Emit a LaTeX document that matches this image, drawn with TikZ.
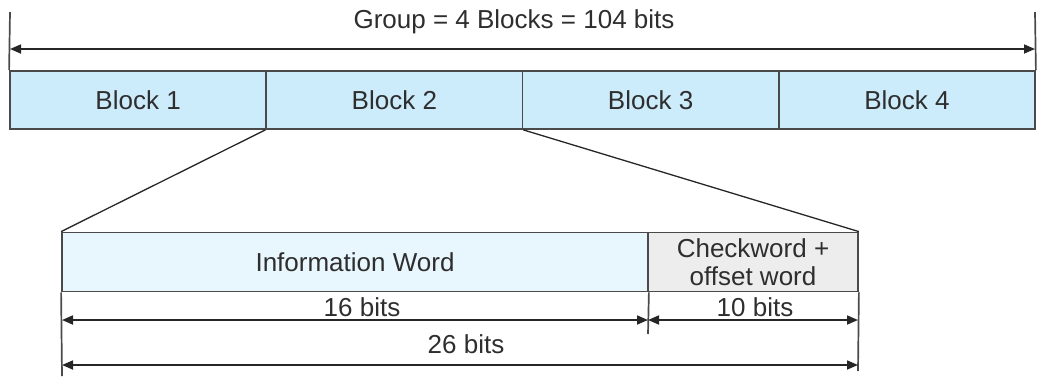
\documentclass[tikz,border=0pt]{standalone}
\usepackage{fontspec}
\setmainfont{Liberation Sans}
\usetikzlibrary{arrows.meta}
\definecolor{blockblue}{HTML}{CCEBFB}
\definecolor{infoblue}{HTML}{E8F6FD}
\definecolor{checkgray}{HTML}{EDEDED}
\definecolor{edge}{HTML}{4A4A4A}
\definecolor{txt}{HTML}{2E2E2E}
\tikzset{
  blockbox/.style={draw=edge, line width=1.8pt, fill=blockblue, minimum width=256.25pt, minimum height=58pt, inner sep=0pt, text=txt, font=\fontsize{26}{29}\selectfont},
  wordbox/.style={draw=edge, line width=1.8pt, minimum height=59pt, inner sep=0pt, text=txt, font=\fontsize{26}{30}\selectfont, align=center},
  dim/.style={line width=1.7pt, draw=black!85, {Triangle[length=11pt,width=9pt]}-{Triangle[length=11pt,width=9pt]}},
  ext/.style={line width=1.7pt, draw=edge},
  zoomline/.style={line width=1.3pt, draw=black!85},
  lab/.style={text=txt, font=\fontsize{26}{29}\selectfont, inner sep=0pt}
}
\begin{document}
\begin{tikzpicture}[x=1pt,y=-1pt]
\useasboundingbox (0,0) rectangle (1037,376);
% blocks
\node[blockbox] (b1) at (138.125,100) {Block 1};
\node[blockbox] (b2) at (394.375,100) {Block 2};
\node[blockbox] (b3) at (650.625,100) {Block 3};
\node[blockbox] (b4) at (906.875,100) {Block 4};
% group dimension
\coordinate (gtl) at (10,12);
\coordinate (gtr) at (1035,12);
\coordinate (gal) at (10,49);
\coordinate (gar) at (1035,49);
\draw[ext] (b1.north west) -- (gtl);
\draw[ext] (b4.north east) -- (gtr);
\draw[dim] (gal) -- (gar);
\node[lab] (glab) at (514,22) {Group = 4 Blocks = 104 bits};
% lower words
\node[wordbox, fill=infoblue, minimum width=586pt] (info) at (355,262) {Information Word};
\node[wordbox, fill=checkgray, minimum width=210pt] (check) at (753,262) {Checkword +\\[-2pt]offset word};
% zoom lines
\draw[zoomline] (b2.south west) -- (info.north west);
\draw[zoomline] (b2.south east) -- (check.north east);
% extension lines
\coordinate (el) at (62,376);
\coordinate (em) at (648,334);
\coordinate (er) at (858,371);
\draw[ext] (info.south west) -- (el);
\draw[ext] (info.south east) -- (em);
\draw[ext] (check.south east) -- (er);
% dimension arrows
\coordinate (a16l) at (62,320);
\coordinate (a16r) at (648,320);
\coordinate (a10r) at (858,320);
\coordinate (a26l) at (62,365);
\coordinate (a26r) at (858,365);
\draw[dim] (a16l) -- (a16r);
\draw[dim] (a16r) -- (a10r);
\draw[dim] (a26l) -- (a26r);
\node[lab] (l16) at (362,307) {16 bits};
\node[lab] (l10) at (755,307) {10 bits};
\node[lab] (l26) at (466,344) {26 bits};
\end{tikzpicture}
\end{document}
